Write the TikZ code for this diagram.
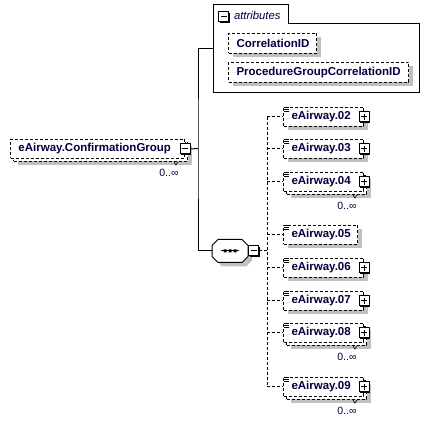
\documentclass[tikz,border=0pt]{standalone}
\usepackage{fontspec}
\setmainfont{Liberation Sans}[BoldFont={Liberation Sans Bold}, ItalicFont={Liberation Sans Italic}]
\usetikzlibrary{shadows, positioning, calc}

\definecolor{txtnavy}{HTML}{000040}
\definecolor{shadowgrey}{HTML}{C0C0C0}
\newcommand{\elemfont}{\fontsize{11.5}{13}\selectfont\bfseries}
\newcommand{\cardfont}{\fontsize{10.5}{12}\selectfont}

\tikzset{
  grey shadow/.style={drop shadow={shadow xshift=4pt, shadow yshift=-4pt, fill=shadowgrey, opacity=1}},
  elem/.style={draw, dash pattern=on 3pt off 2pt, fill=white, anchor=north west, minimum height=19pt, inner xsep=8pt, inner ysep=0pt, align=left, font=\elemfont, text=txtnavy},
  elemback/.style={draw, dash pattern=on 3pt off 2pt, fill=white, anchor=north west, minimum height=19pt, inner sep=0pt, grey shadow},
  pmbox/.style={draw, solid, fill=white, minimum size=10pt, inner sep=0pt, drop shadow={shadow xshift=1pt, shadow yshift=-1pt, fill=black, opacity=1}},
  minusbox/.style={pmbox, path picture={\draw[line width=1pt] ([xshift=2pt]path picture bounding box.west) -- ([xshift=-2pt]path picture bounding box.east);}},
  plusbox/.style={pmbox, path picture={\draw[line width=1pt] ([xshift=2pt]path picture bounding box.west) -- ([xshift=-2pt]path picture bounding box.east) ([yshift=-2pt]path picture bounding box.north) -- ([yshift=2pt]path picture bounding box.south);}},
  conn/.style={dash pattern=on 3pt off 2pt},
  card/.style={font=\cardfont, text=txtnavy, inner sep=0pt, anchor=east},
  icon/.style={line width=0.8pt, solid},
  tick/.style={line width=0.6pt, solid},
}

\begin{document}
\begin{tikzpicture}[x=1pt, y=-1pt, line width=1pt]
  \useasboundingbox (0,0) rectangle (429,422);
  % root element
  \node[elemback, minimum width=174pt] (confb) at (13,142) {};
  \node[elem, text width=158pt] (conf) at (10,139) {eAirway.ConfirmationGroup};
  \node[minusbox] (confm) at (conf.east) {};
  \node[card] (confc) at ([shift={(-9,11)}]confb.south east) {0..∞};
  \draw[tick] ([xshift=-14pt]confb.south east) -- ++(2,3) -- ++(2,-3);
  \coordinate (trunk) at (198,148.5);
  \coordinate (attrjoin) at (213,49);
  % attributes group
  \node[anchor=north west, minimum width=205pt, minimum height=68pt, inner sep=0pt] (attr) at (213,24) {};
  \node[anchor=north west, minimum width=74pt, minimum height=19pt, inner sep=0pt] (attrtab) at (213,5) {};
  \draw (attr.south west) |- (attrtab.north east) |- (attr.north east) |- (attr.south west) -- cycle;
  \node[minusbox] (attrm) at (223.5,17) {};
  \node[right=4.5pt of attrm, yshift=1.5pt, inner sep=0pt, font=\fontsize{11.3}{13}\selectfont\itshape, text=txtnavy] (attrlbl) {attributes};
  \node[elem, grey shadow, minimum height=20pt, text width=72pt] (corrid) at (228,33) {CorrelationID};
  \node[elem, grey shadow, minimum height=20pt, text width=164pt] (procid) at (228,62) {ProcedureGroupCorrelationID};
  % sequence compositor
  \node[minimum width=35pt, minimum height=22pt, inner sep=0pt] (seq) at (230,251) {};
  \draw[fill=white, grey shadow] ([xshift=6pt]seq.north west) -- ([xshift=-6pt]seq.north east) -- ([yshift=-6pt]seq.north east) -- ([yshift=6pt]seq.south east) -- ([xshift=-6pt]seq.south east) -- ([xshift=6pt]seq.south west) -- ([yshift=6pt]seq.south west) -- ([yshift=-6pt]seq.north west) -- cycle;
  \draw (seq.center) ++(-9,0) -- ++(18,0);
  \fill (seq.center) ++(-6.5,-1.5) rectangle ++(3,3) ++(2,-3) rectangle ++(3,3) ++(2,-3) rectangle ++(3,3);
  \node[minusbox, anchor=west] (seqm) at (seq.east) {};
  \coordinate (bus) at (267,251);
  \draw (confm.east) -- (trunk);
  \draw (attrjoin) -| (trunk) |- (seq.west);
  \draw[conn] (seqm.east) -- (bus);
  % sequence children
  \node[elem, grey shadow, text width=64pt] (e02) at (283,107) {eAirway.02};
  \node[plusbox] (e02p) at (e02.east) {};
  \node[elem, grey shadow, text width=64pt] (e03) at (283,139) {eAirway.03};
  \node[plusbox] (e03p) at (e03.east) {};
  \node[elemback, minimum width=80pt] (e04b) at (286,175) {};
  \node[elem, text width=64pt] (e04) at (283,172) {eAirway.04};
  \node[plusbox] (e04p) at (e04.east) {};
  \node[card] (e04c) at ([shift={(-10,11)}]e04b.south east) {0..∞};
  \draw[tick] ([xshift=-14pt]e04b.south east) -- ++(2,3) -- ++(2,-3);
  \node[elem, grey shadow, text width=58pt] (e05) at (283,225) {eAirway.05};
  \node[elem, grey shadow, text width=64pt] (e06) at (283,258) {eAirway.06};
  \node[plusbox] (e06p) at (e06.east) {};
  \node[elem, grey shadow, text width=64pt] (e07) at (283,291) {eAirway.07};
  \node[plusbox] (e07p) at (e07.east) {};
  \node[elemback, minimum width=80pt] (e08b) at (286,326) {};
  \node[elem, text width=64pt] (e08) at (283,323) {eAirway.08};
  \node[plusbox] (e08p) at (e08.east) {};
  \node[card] (e08c) at ([shift={(-10,11)}]e08b.south east) {0..∞};
  \draw[tick] ([xshift=-14pt]e08b.south east) -- ++(2,3) -- ++(2,-3);
  \node[elemback, minimum width=80pt] (e09b) at (286,380) {};
  \node[elem, text width=64pt] (e09) at (283,377) {eAirway.09};
  \node[plusbox] (e09p) at (e09.east) {};
  \node[card] (e09c) at ([shift={(-10,11)}]e09b.south east) {0..∞};
  \draw[tick] ([xshift=-14pt]e09b.south east) -- ++(2,3) -- ++(2,-3);
  % element icons
  \draw[icon] ([xshift=1pt]e02.north west) -- ++(5,0) ++(-5,2) -- ++(5,0) ++(-5,2) -- ++(5,0);
  \draw[icon] ([xshift=1pt]e03.north west) -- ++(5,0) ++(-5,2) -- ++(5,0) ++(-5,2) -- ++(5,0);
  \draw[icon] ([xshift=1pt]e04.north west) -- ++(5,0) ++(-5,2) -- ++(5,0) ++(-5,2) -- ++(5,0);
  \draw[icon] ([xshift=1pt]e05.north west) -- ++(5,0) ++(-5,2) -- ++(5,0) ++(-5,2) -- ++(5,0);
  \draw[icon] ([xshift=1pt]e06.north west) -- ++(5,0) ++(-5,2) -- ++(5,0) ++(-5,2) -- ++(5,0);
  \draw[icon] ([xshift=1pt]e07.north west) -- ++(5,0) ++(-5,2) -- ++(5,0) ++(-5,2) -- ++(5,0);
  \draw[icon] ([xshift=1pt]e08.north west) -- ++(5,0) ++(-5,2) -- ++(5,0) ++(-5,2) -- ++(5,0);
  \draw[icon] ([xshift=1pt]e09.north west) -- ++(5,0) ++(-5,2) -- ++(5,0) ++(-5,2) -- ++(5,0);
  % dashed connectors
  \draw[conn] (bus |- e02.west) -- (bus |- e09.west);
  \draw[conn] (bus |- e02.west) -- (e02.west);
  \draw[conn] (bus |- e03.west) -- (e03.west);
  \draw[conn] (bus |- e04.west) -- (e04.west);
  \draw[conn] (bus |- e05.west) -- (e05.west);
  \draw[conn] (bus |- e06.west) -- (e06.west);
  \draw[conn] (bus |- e07.west) -- (e07.west);
  \draw[conn] (bus |- e08.west) -- (e08.west);
  \draw[conn] (bus |- e09.west) -- (e09.west);
\end{tikzpicture}
\end{document}
